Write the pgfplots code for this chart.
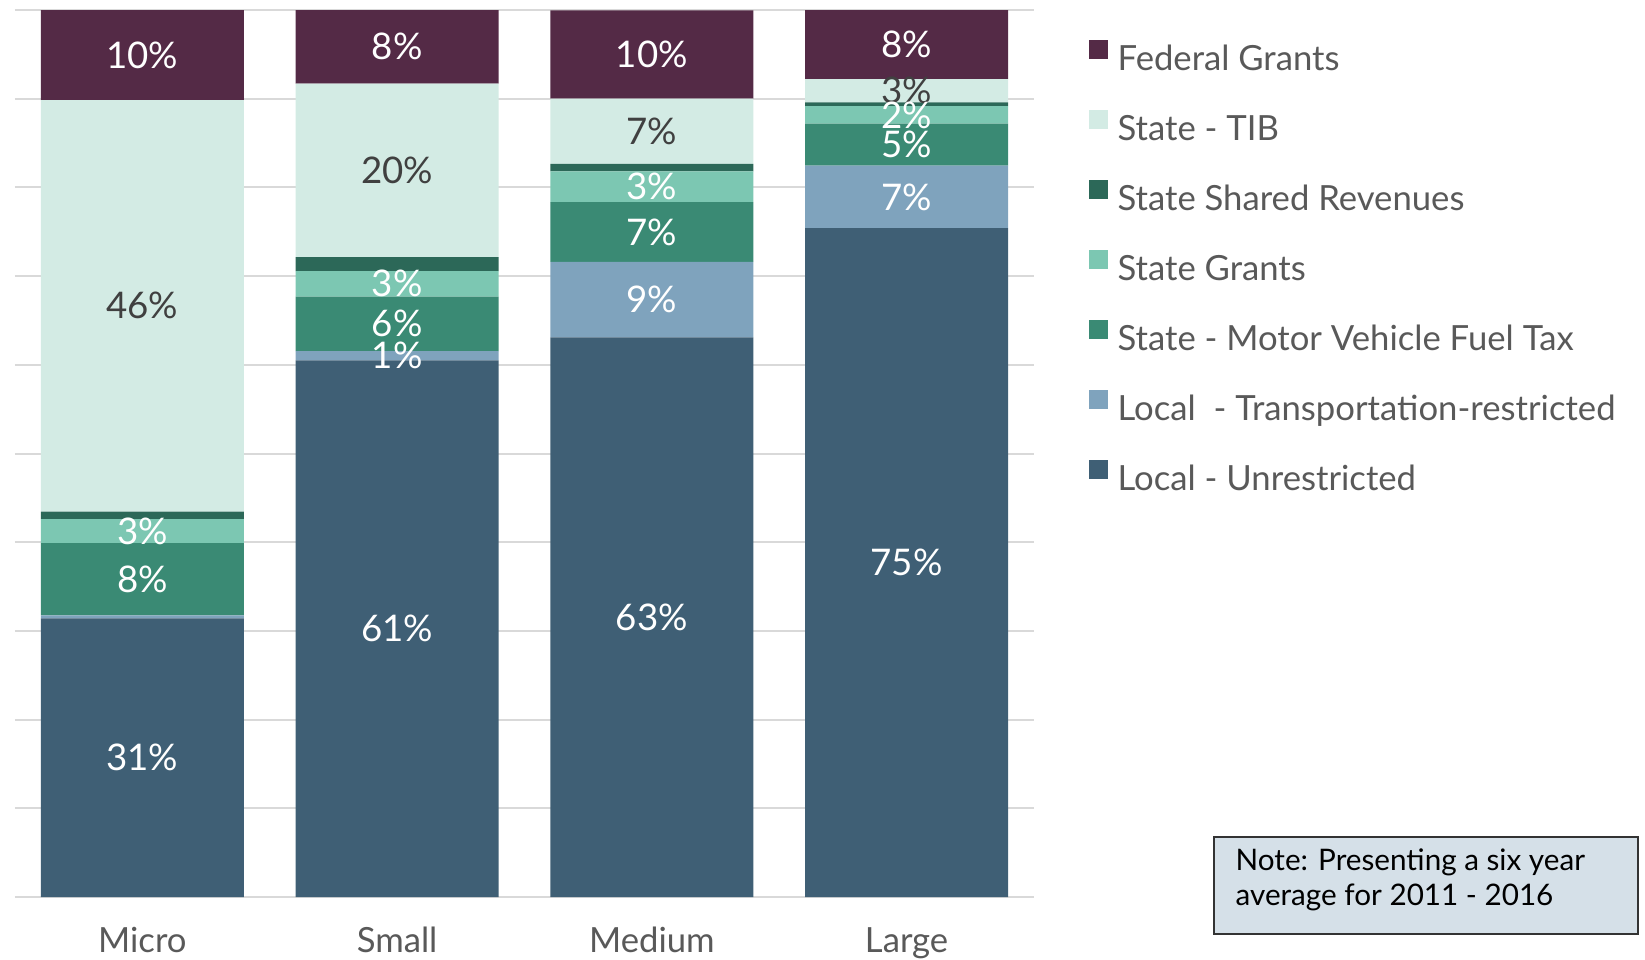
\documentclass[border=0pt]{standalone}
\usepackage{pgfplots}
\pgfplotsset{compat=1.18}
\usepackage{fontspec}
\setmainfont{Lato}
\definecolor{cFed}{HTML}{542A46}
\definecolor{cTIB}{HTML}{D3EBE4}
\definecolor{cShared}{HTML}{2C6858}
\definecolor{cGrants}{HTML}{7CC7B2}
\definecolor{cMVFT}{HTML}{3A8A74}
\definecolor{cTransp}{HTML}{7FA3BD}
\definecolor{cUnres}{HTML}{3F5F75}
\definecolor{cGrid}{HTML}{D9D9D9}
\definecolor{cText}{HTML}{595959}
\definecolor{cDark}{HTML}{404040}
\definecolor{cNote}{HTML}{D5E0E8}
\begin{document}
\begin{tikzpicture}
\begin{axis}[
  scale only axis,
  width=305.7pt, height=266.1pt,
  ybar stacked, bar width=60.9pt,
  xmin=-0.5, xmax=3.5, ymin=0, ymax=100,
  xtick={0,1,2,3}, xticklabels={Micro,Small,Medium,Large},
  ytick={0,10,...,100}, yticklabels={},
  yticklabel style={inner sep=0pt}, yticklabel shift=0pt,
  ymajorgrids, grid style={cGrid, line width=0.6pt},
  axis line style={draw=none}, tick style={draw=none},
  xticklabel style={anchor=base, inner sep=0pt, text=cText, font=\fontsize{10.4}{12}\selectfont},
  xticklabel shift=0pt,
  every x tick label/.append style={yshift=-16.5pt},
  point meta=explicit symbolic,
  nodes near coords,
  every node near coord/.append style={anchor=center, inner sep=0pt, text=white, font=\fontsize{11}{12}\selectfont},
  reverse legend,
  legend cell align=left,
  legend style={draw=none, fill=none, at={(axis description cs:1.053,0.9667)}, anchor=north west,
    inner sep=0pt, row sep=9.85pt,
    nodes={inner sep=0pt, text height=7.5pt, text depth=2pt},
    font=\fontsize{10.4}{12}\selectfont, text=cText,
    /tikz/every odd column/.append style={column sep=3pt}},
  legend image code/.code={\fill[#1] (0pt,0.7pt) rectangle (5.7pt,6.4pt);},
]
\addplot+[fill=cUnres, draw=none] coordinates {(0,31.4) [31\%] (1,60.5) [61\%] (2,63.1) [63\%] (3,75.4) [75\%]};
\addlegendentry{Local - Unrestricted}
\addplot+[fill=cTransp, draw=none] coordinates {(0,0.35) [] (1,1.05) [1\%] (2,8.5) [9\%] (3,7.05) [7\%]};
\addlegendentry{Local\ \ - Transportation-restricted}
\addplot+[fill=cMVFT, draw=none] coordinates {(0,8.15) [8\%] (1,6.15) [6\%] (2,6.75) [7\%] (3,4.75) [5\%]};
\addlegendentry{State - Motor Vehicle Fuel Tax}
\addplot+[fill=cGrants, draw=none] coordinates {(0,2.7) [3\%] (1,2.85) [3\%] (2,3.45) [3\%] (3,1.95) [2\%]};
\addlegendentry{State Grants}
\addplot+[fill=cShared, draw=none] coordinates {(0,0.85) [] (1,1.6) [] (2,0.85) [] (3,0.45) []};
\addlegendentry{State Shared Revenues}
\addplot+[fill=cTIB, draw=none, every node near coord/.append style={text=cDark}] coordinates {(0,46.4) [46\%] (1,19.55) [20\%] (2,7.35) [7\%] (3,2.6) [3\%]};
\addlegendentry{State - TIB}
\addplot+[fill=cFed, draw=none] coordinates {(0,10.15) [10\%] (1,8.3) [8\%] (2,9.95) [10\%] (3,7.8) [8\%]};
\addlegendentry{Federal Grants}
\end{axis}
\draw[fill=cNote, draw=black!80, line width=0.6pt] (359.7pt,-11.1pt) rectangle (486.9pt,18pt);
\node[anchor=base west, inner sep=0pt, font=\fontsize{8.9}{10}\selectfont] at (366pt,8.1pt) {Note: Presenting a six year};
\node[anchor=base west, inner sep=0pt, font=\fontsize{8.9}{10}\selectfont] at (366pt,-2.4pt) {average for 2011 - 2016};
\path (-4.5pt,-18.6pt) rectangle (489pt,269.1pt);
\end{tikzpicture}
\end{document}
